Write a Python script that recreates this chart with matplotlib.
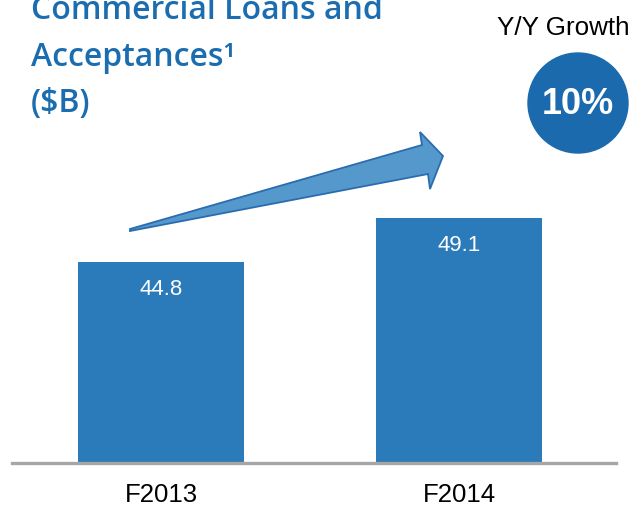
import matplotlib
matplotlib.use("Agg")
import matplotlib.pyplot as plt
from matplotlib.patches import Polygon, Circle

# --- data ---
categories = ["F2013", "F2014"]
values = [44.8, 49.1]
growth_label = "10%"

bar_color = "#2b7bba"
title_color = "#1b6db0"
W, H = 632, 506

fig = plt.figure(figsize=(W / 100, H / 100), dpi=100)

# axes: baseline at y=464px, x from 12 to 616px
ax = fig.add_axes([12 / W, (H - 464) / H, 604 / W, 464 / H])
x = list(range(len(categories)))
ax.bar(x, values, width=0.557, color=bar_color, zorder=2)
ax.set_xlim(-0.5, 1.527)
ax.set_ylim(25.2, 70.4)  # truncated axis as in the slide

for xi, v in zip(x, values):
    ax.text(xi, v - 2.6, f"{v:.1f}", ha="center", va="center",
            color="white", fontsize=16, family="Liberation Sans", zorder=3)

ax.set_xticks(x)
ax.set_xticklabels(categories, fontsize=18.5, family="Liberation Sans")
ax.tick_params(axis="x", length=0, pad=22)
ax.set_yticks([])
for s in ["top", "right", "left"]:
    ax.spines[s].set_visible(False)
ax.spines["bottom"].set_color("#a6a6a6")
ax.spines["bottom"].set_linewidth(2.4)
ax.spines["bottom"].set_zorder(4)
for lab in ax.get_xticklabels():
    lab.set_verticalalignment("center")

# --- title (top left, partly cut off like the slide) ---
def px(xp, yp):
    return xp / W, 1 - yp / H

title_lines = ["Commercial Loans and", "Acceptances¹", "($B)"]
for i, line in enumerate(title_lines):
    fig.text(*px(31, 19 + 46.5 * i), line, color=title_color, fontsize=23,
             family="Open Sans", fontweight="semibold", va="baseline",
             ha="left")

# --- growth bubble ---
fig.text(*px(563, 28), "Y/Y Growth", ha="center", va="center",
         fontsize=18.7, family="Liberation Sans", color="black")
cx, cy = px(578, 104)
fig.patches.append(Circle((cx * W, cy * H), 50, transform=None,
                          color="#1a6aad"))
fig.text(cx, cy, growth_label, ha="center", va="center", color="white",
         fontsize=26, fontweight="bold", family="Liberation Sans")

# --- growth arrow ---
arrow_px = [(130, 232), (130, 230), (422, 146), (420, 133), (443, 157),
            (430, 190), (428, 175)]
arrow = Polygon([px(a, b) for a, b in arrow_px], closed=True,
                transform=fig.transFigure, facecolor="#5599cc",
                edgecolor="#2a6cb0", linewidth=1.3)
fig.patches.append(arrow)

plt.savefig("out.png", dpi=100)
